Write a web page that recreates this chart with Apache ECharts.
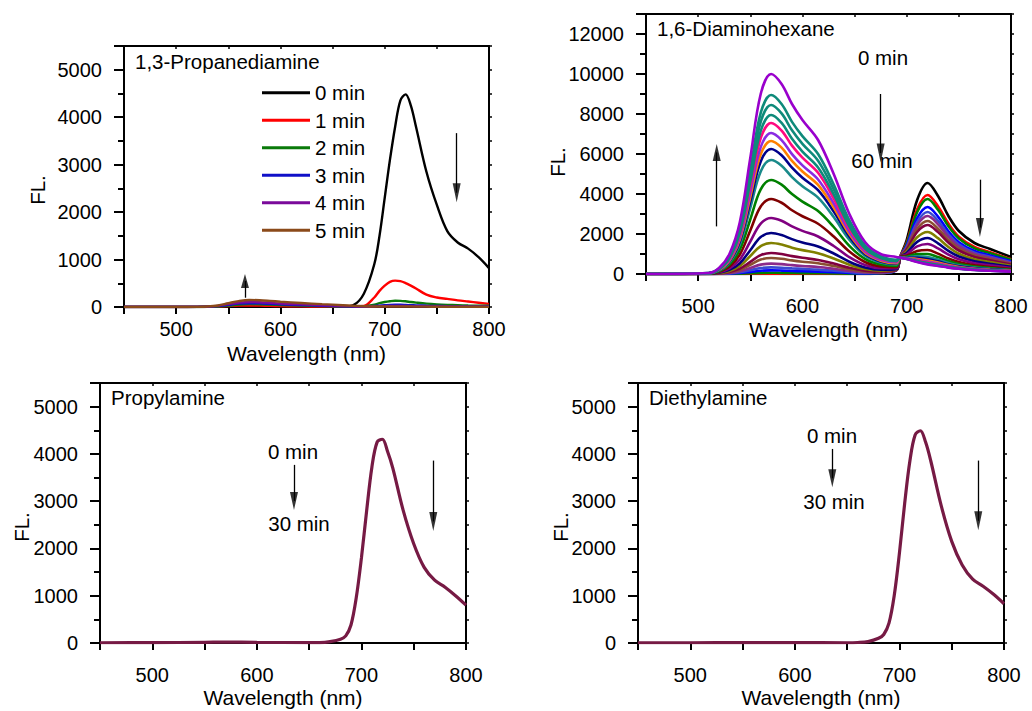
<!DOCTYPE html>
<html><head><meta charset="utf-8">
<script src="https://cdn.jsdelivr.net/npm/echarts@6/dist/echarts.min.js"></script>
<style>html,body{margin:0;padding:0;background:#fff}#c{width:1032px;height:711px}</style>
</head><body><div id="c"></div>
<script>
// ===== Panel 1: 1,3-Propanediamine =====
const wlA = [450,500,520,530,540,550,560,570,580,590,600,620,640,660,670,680,690,695,700,705,710,715,720,725,730,740,750,760,770,780,790,800];
const pdaNames = ['0 min','1 min','2 min','3 min','4 min','5 min'];
const pda0 = [0,0,0,2,4,6,8,8,8,7, 6,4,3,8,40,280,900,1500,2300,3100, 3800,4350,4480,4250,3800,2850,2150,1600,1360,1230, 1050,820];
const pda1 = [0,0,2,5,12,20,28,30,28,24, 20,14,10,6,8,20,200,340,450,530, 555,545,505,450,390,260,200,170,140,115, 90,65];
const pda2 = [0,0,1,4,12,30,50,60,58,50, 42,30,20,12,10,12,50,80,105,122, 132,130,120,105,92,70,55,45,38,32, 28,25];
const pda3 = [0,0,2,6,18,45,70,80,76,66, 56,40,27,15,10,8,20,30,38,45, 48,47,43,38,34,27,22,18,16,14, 12,10];
const pda4 = [0,0,2,8,24,60,90,105,100,88, 75,55,37,22,14,8,10,14,18,21, 22,22,20,18,16,13,11,9,8,7, 6,5];
const pda5 = [0,0,3,10,32,80,125,148,142,128, 112,85,60,38,25,15,10,10,10,10, 10,10,10,9,8,7,6,5,5,4, 4,3];

// ===== Panel 2: 1,6-Diaminohexane (0 -> 60 min) =====
const wlB = [450,510,520,530,540,550,560,570,580,590, 600,615,630,645,660,675,690,694,700,710, 720,730,740,750,765,780,800];
const dah01 = [0,0,0,0,0,0,0,0,0,0, 0,0,0,0,0,40,240,900,1700,3700, 4550,3900,2900,2150,1550,1250,850];
const dah02 = [0,0,1,2,5,12,18,20,19,17, 15,13,10,6,3,37,210,890,1560,3240, 3950,3390,2520,1870,1350,1090,740];
const dah03 = [0,0,2,6,16,35,54,60,57,51, 46,40,30,18,10,39,200,880,1510,3090, 3750,3210,2390,1780,1280,1040,710];
const dah04 = [0,1,5,18,47,104,162,180,171,153, 139,121,90,54,29,47,186,876,1420,2790, 3350,2870,2140,1590,1150,930,635];
const dah05 = [0,2,10,33,86,191,297,330,314,281, 254,221,165,99,53,59,183,872,1362,2596, 3100,2654,1982,1477,1069,862,590];
const dah06 = [0,3,16,52,135,302,468,520,494,442, 400,348,260,156,83,76,187,868,1315,2445, 2900,2483,1855,1385,1003,809,554];
const dah07 = [0,4,24,80,208,464,720,800,760,680, 616,536,400,240,128,102,194,863,1256,2252, 2650,2266,1695,1267,920,741,509];
const dah08 = [0,5,32,105,273,609,945,1050,998,893, 809,704,525,315,168,125,202,859,1210,2100, 2450,2094,1569,1175,853,688,473];
const dah09 = [0,8,47,155,403,899,1395,1550,1473,1318, 1194,1039,775,465,248,171,221,852,1128,1834, 2100,1793,1347,1012,737,594,411];
const dah10 = [0,10,62,205,533,1189,1845,2050,1948,1743, 1579,1374,1025,615,328,218,243,846,1058,1604, 1800,1534,1156,872,637,513,357];
const dah11 = [0,14,84,280,728,1624,2520,2800,2660,2380, 2156,1876,1400,840,448,290,285,840,988,1378, 1500,1279,968,734,539,434,303];
const dah12 = [0,19,113,375,975,2175,3375,3750,3563,3188, 2888,2513,1875,1125,600,382,343,834,918,1149, 1200,1020,777,595,439,353,249];
const dah13 = [0,24,141,470,1222,2726,4230,4700,4465,3995, 3619,3149,2350,1410,752,475,407,830,872,996, 1000,848,650,502,373,300,213];
const dah14 = [0,29,171,570,1482,3306,5130,5700,5415,4845, 4389,3819,2850,1710,912,574,478,827,836,882, 850,719,555,432,323,259,186];
const dah15 = [0,31,188,625,1625,3625,5625,6250,5938,5313, 4813,4188,3125,1875,1000,628,516,825,813,805, 749,631,490,385,289,232,168];
const dah16 = [0,33,200,665,1729,3857,5985,6650,6318,5653, 5121,4456,3325,1995,1064,667,544,824,797,752, 679,572,446,353,266,213,156];
const dah17 = [0,35,212,705,1833,4089,6345,7050,6698,5993, 5429,4724,3525,2115,1128,706,572,823,782,705, 618,519,408,324,246,197,145];
const dah18 = [0,38,227,755,1963,4379,6795,7550,7173,6418, 5814,5059,3775,2265,1208,756,610,822,774,678, 582,488,385,307,234,187,138];
const dah19 = [0,40,239,795,2067,4611,7155,7950,7553,6758, 6122,5327,3975,2385,1272,795,640,821,766,653, 549,460,364,292,223,179,132];
const dah20 = [0,42,254,845,2197,4901,7605,8450,8028,7183, 6507,5662,4225,2535,1352,845,678,821,760,631, 521,435,346,279,214,171,127];
const dah21 = [0,45,269,895,2327,5191,8055,8950,8503,7608, 6892,5997,4475,2685,1432,895,716,820,755,615, 500,418,333,269,207,165,124];
const dah22 = [0,50,300,1000,2600,5800,9000,10000,9500,8500, 7700,6700,5000,3000,1600,1000,850,820,750,600, 480,400,320,260,200,160,120];

// ===== Panels 3 & 4: Propylamine, Diethylamine =====
const wlC = [450,500,550,570,600,650,660,670,680,685, 690,695,700,705,710,715,720,725,730,740, 750,760,770,780,790,800];
const propyl = [5,8,15,20,15,8,10,30,80,150, 380,950,1800,2800,3720,4250,4310,4050,3700,2800, 2100,1600,1330,1180,1000,800];
const diethyl = [5,5,8,10,8,5,10,30,100,180, 420,1000,1900,2950,3850,4400,4490,4250,3850,2900, 2150,1650,1350,1200,1030,830];

const xLabelStep = 100;

// annotation arrows: [x, from y, head-centre y]
const arrowsP1 = [[566, 196, 548], [769, 3664, 2409]];
const arrowsP2 = [[517.8, 2380, 6080], [675, 9000, 6050], [770.2, 4715, 2325]];
const arrowsP3 = [[635.5, 3768, 3006], [768.7, 3859, 2571]];
const arrowsP4 = [[635.8, 4105, 3484], [775.4, 3859, 2585]];

const FONT = '"Liberation Sans", Arial, Helvetica, sans-serif';
const pdaColors = ['#000000','#ff0000','#0a7a0a','#1010c8','#7a0a9a','#8b4a1a'];
const dahColors = ['#000000','#ff0000','#008000','#0000ff','#3a4ad0','#8b2a8b','#8a5030','#800040','#808000','#000080','#800080','#800000','#008000','#1a8a8a','#00008b','#ff8000','#8a2be2','#ff0a80','#0e8a7a','#0e8a7a','#0e8a7a','#9900cc'];
const dahData = [dah01,dah02,dah03,dah04,dah05,dah06,dah07,dah08,dah09,dah10,dah11,dah12,dah13,dah14,dah15,dah16,dah17,dah18,dah19,dah20,dah21,dah22];

const zip = (xs, ys) => xs.map((x, i) => [x, ys[i]]);

const grids = [
  {left:124, top:46, width:365, height:261},
  {left:646, top:14, width:365, height:260},
  {left:100, top:383, width:366, height:260},
  {left:638, top:383, width:366, height:260}
];
const panelCfg = [
  {ymax:5500, major:1000, minor:500, labMax:5000, xMargin:12, xGap:36},
  {ymax:13000, major:2000, minor:1000, labMax:12000, xMargin:22, xGap:45},
  {ymax:5500, major:1000, minor:500, labMax:5000, xMargin:22, xGap:44},
  {ymax:5500, major:1000, minor:500, labMax:5000, xMargin:22, xGap:44}
];

const xAxes = [], yAxes = [];
const blk = '#000';
panelCfg.forEach((c, gi) => {
  xAxes.push({
    gridIndex: gi, type:'value', min:450, max:800, interval:50, position:'bottom',
    axisLine:{show:true, onZero:false, lineStyle:{color:blk, width:2}},
    axisTick:{show:true, inside:false, length:7, lineStyle:{color:blk, width:2}},
    axisLabel:{show:true, margin:c.xMargin, color:blk, fontSize:20, fontFamily:FONT,
      formatter: v => (v % xLabelStep === 0 ? String(v) : '')},
    splitLine:{show:false},
    name:'Wavelength (nm)', nameLocation:'middle', nameGap:c.xGap,
    nameTextStyle:{color:blk, fontSize:21, fontFamily:FONT}
  });
  xAxes.push({
    gridIndex: gi, type:'value', min:450, max:800, interval:50, position:'top',
    axisLine:{show:true, onZero:false, lineStyle:{color:blk, width:2}},
    axisTick:{show:true, inside:true, length:3, lineStyle:{color:blk, width:1.5}},
    axisLabel:{show:false}, splitLine:{show:false}
  });
  yAxes.push({
    gridIndex: gi, type:'value', min:0, max:c.ymax, interval:c.major, position:'left',
    axisLine:{show:true, onZero:false, lineStyle:{color:blk, width:2}},
    axisTick:{show:true, inside:false, length:10, lineStyle:{color:blk, width:2}},
    axisLabel:{show:true, margin:22, color:blk, fontSize:20, fontFamily:FONT,
      formatter: v => ((v % c.major === 0 && v <= c.labMax) ? String(v) : '')},
    splitLine:{show:false}
  });
  yAxes.push({
    gridIndex: gi, type:'value', min:0, max:c.ymax, interval:c.minor, position:'left',
    axisLine:{show:false},
    axisTick:{show:true, inside:false, length:6, lineStyle:{color:blk, width:2}},
    axisLabel:{show:false}, splitLine:{show:false}
  });
  yAxes.push({
    gridIndex: gi, type:'value', min:0, max:c.ymax, interval:c.minor, position:'right',
    axisLine:{show:true, onZero:false, lineStyle:{color:blk, width:2}},
    axisTick:{show:true, inside:false, length:3, lineStyle:{color:blk, width:1.5}},
    axisLabel:{show:false}, splitLine:{show:false}
  });
});

function lineSeries(name, gi, xs, ys, color, width) {
  return {
    name, type:'line', xAxisIndex: 2*gi, yAxisIndex: 3*gi,
    data: zip(xs, ys), symbol:'none', showSymbol:false, smooth:0.35,
    lineStyle:{color, width}, itemStyle:{color}, animation:false, silent:true,
    emphasis:{disabled:true}
  };
}
function arrowSeries(gi, arrows, headSizes) {
  return [{
    name:'stems'+gi, type:'line', xAxisIndex:2*gi, yAxisIndex:3*gi, data:[],
    animation:false, silent:true,
    markLine:{silent:true, symbol:['none','none'], label:{show:false}, animation:false,
      lineStyle:{color:blk, width:1.3, type:'solid'}, emphasis:{disabled:true},
      data: arrows.map(a => [{coord:[a[0], a[1]]}, {coord:[a[0], a[2]]}])}
  }, {
    name:'heads'+gi, type:'scatter', xAxisIndex:2*gi, yAxisIndex:3*gi,
    symbol:'triangle', itemStyle:{color:blk}, animation:false, silent:true, z:5,
    data: arrows.map((a, i) => ({value:[a[0], a[2]], symbolSize: headSizes[i], symbolRotate: a[2] > a[1] ? 0 : 180}))
  }];
}

const series = [];
[pda0,pda1,pda2,pda3,pda4,pda5].forEach((d, i) => series.push(lineSeries(pdaNames[i], 0, wlA, d, pdaColors[i], 2.4)));
dahData.forEach((d, i) => series.push(lineSeries('DAH ' + i, 1, wlB, d, dahColors[i], 2.6)));
series.push(lineSeries('Propylamine', 2, wlC, propyl, '#761a44', 3.2));
series.push(lineSeries('Diethylamine', 3, wlC, diethyl, '#761a44', 3.2));
series.push(...arrowSeries(0, arrowsP1, [[8,14],[8,19]]));
series.push(...arrowSeries(1, arrowsP2, [[8,17],[8,19],[8,19]]));
series.push(...arrowSeries(2, arrowsP3, [[8,18],[8,19]]));
series.push(...arrowSeries(3, arrowsP4, [[8,18],[8,19]]));

function txt(text, x, y, opts) {
  opts = opts || {};
  return {type:'text', x, y, rotation: opts.rot || 0, silent:true, z:10,
    style:{text, fill:blk, fontSize: opts.size || 20.5, fontFamily:FONT,
      align: opts.align || 'left', verticalAlign:'middle'}};
}
const graphics = [
  txt('1,3-Propanediamine', 135, 61),
  txt('1,6-Diaminohexane', 657, 28),
  txt('Propylamine', 111, 397),
  txt('Diethylamine', 649, 397),
  txt('0 min', 883, 57, {align:'center'}),
  txt('60 min', 882, 160, {align:'center'}),
  txt('0 min', 293, 451, {align:'center'}),
  txt('30 min', 299, 523, {align:'center'}),
  txt('0 min', 832, 435, {align:'center'}),
  txt('30 min', 834, 501, {align:'center'}),
  txt('FL.', 37, 190, {align:'center', rot:Math.PI/2}),
  txt('FL.', 557, 162, {align:'center', rot:Math.PI/2}),
  txt('FL.', 21, 527, {align:'center', rot:Math.PI/2}),
  txt('FL.', 560, 527, {align:'center', rot:Math.PI/2})
];

const chart = echarts.init(document.getElementById('c'), null, {renderer:'svg'});
chart.setOption({
  backgroundColor:'#fff',
  animation:false,
  grid: grids.map(g => Object.assign({containLabel:false, show:false}, g)),
  xAxis: xAxes,
  yAxis: yAxes,
  legend: {
    data: pdaNames, orient:'vertical', left:257, top:77, itemWidth:48, itemHeight:14, itemGap:6,
    selectedMode:false, icon:'path://M0,5.5 L48,5.5 L48,8.5 L0,8.5 Z',
    textStyle:{color:blk, fontSize:20.5, fontFamily:FONT, lineHeight:21.5}
  },
  graphic: graphics,
  series
});
</script></body></html>
